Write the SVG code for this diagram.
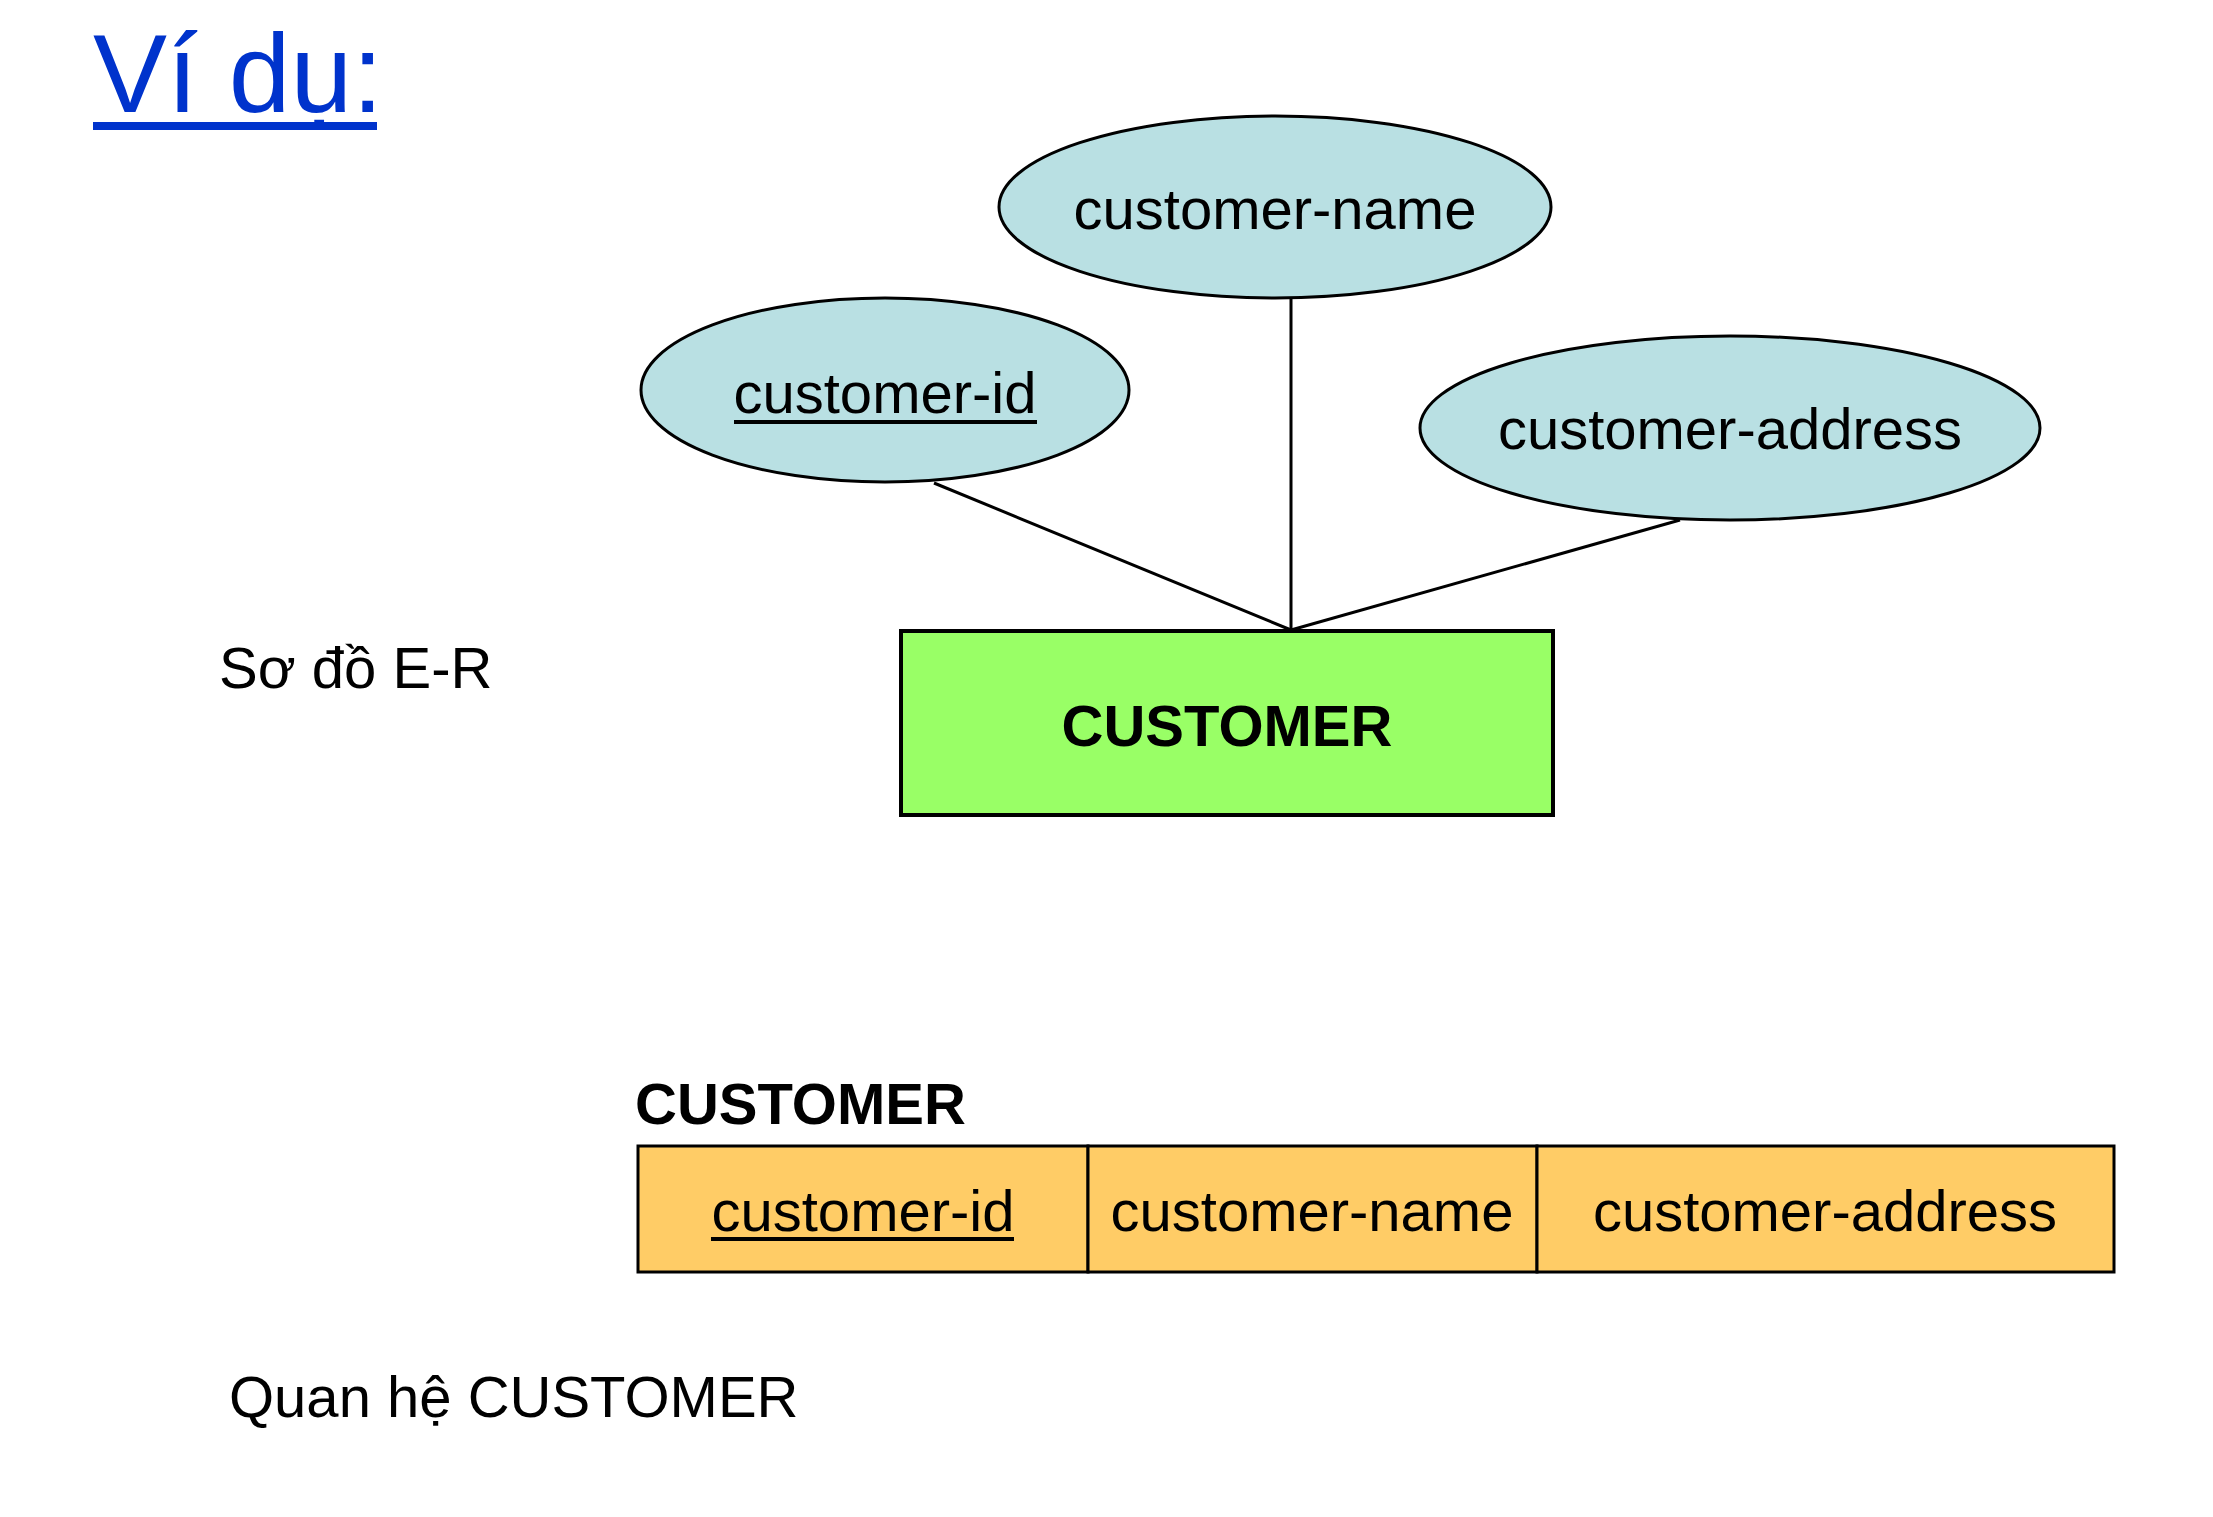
<svg xmlns="http://www.w3.org/2000/svg" width="2213" height="1517" viewBox="0 0 2213 1517">
<style>
text{font-family:"Liberation Sans",Arial,sans-serif;fill:#000}
.attr{fill:#B9E0E3;stroke:#000;stroke-width:3}
.lbl{font-size:58px;text-anchor:middle}
.b{font-weight:bold}
.cell{fill:#FFCC66;stroke:#000;stroke-width:3}
.conn line{stroke:#000;stroke-width:3}
.ul{stroke:#000;stroke-width:4}
</style>
<rect width="2213" height="1517" fill="#fff"/>
<g id="title">
<text x="93" y="112" font-size="111" style="fill:#0033CC">Ví dụ:</text>
<rect x="93" y="122" width="284" height="8" fill="#0033CC"/>
</g>
<g class="conn" id="connectors">
<line x1="934" y1="483" x2="1291" y2="630"/>
<line x1="1291" y1="298" x2="1291" y2="630"/>
<line x1="1680" y1="520" x2="1291" y2="630"/>
</g>
<g id="attr-customer-name">
<ellipse class="attr" cx="1275" cy="207" rx="276" ry="91"/>
<text class="lbl" x="1275" y="229">customer-name</text>
</g>
<g id="attr-customer-id">
<ellipse class="attr" cx="885" cy="390" rx="244" ry="92"/>
<text class="lbl" x="885" y="413">customer-id</text>
<line class="ul" x1="734" y1="422" x2="1037" y2="422"/>
</g>
<g id="attr-customer-address">
<ellipse class="attr" cx="1730" cy="428" rx="310" ry="92"/>
<text class="lbl" x="1730" y="449">customer-address</text>
</g>
<g id="entity-customer">
<rect x="901" y="631" width="652" height="184" fill="#99FF66" stroke="#000" stroke-width="4"/>
<text class="lbl b" x="1227" y="746">CUSTOMER</text>
</g>
<g id="label-er">
<text x="219" y="688" font-size="58">Sơ đồ E-R</text>
</g>
<g id="relation-customer">
<text class="b" x="635" y="1124" font-size="58">CUSTOMER</text>
<rect class="cell" x="638" y="1146" width="450" height="126"/>
<rect class="cell" x="1088" y="1146" width="449" height="126"/>
<rect class="cell" x="1537" y="1146" width="577" height="126"/>
<text class="lbl" x="863" y="1231">customer-id</text>
<line class="ul" x1="711" y1="1239" x2="1014" y2="1239"/>
<text class="lbl" x="1312" y="1231">customer-name</text>
<text class="lbl" x="1825" y="1231">customer-address</text>
</g>
<g id="label-relation">
<text x="229" y="1417" font-size="58">Quan hệ CUSTOMER</text>
</g>
</svg>
